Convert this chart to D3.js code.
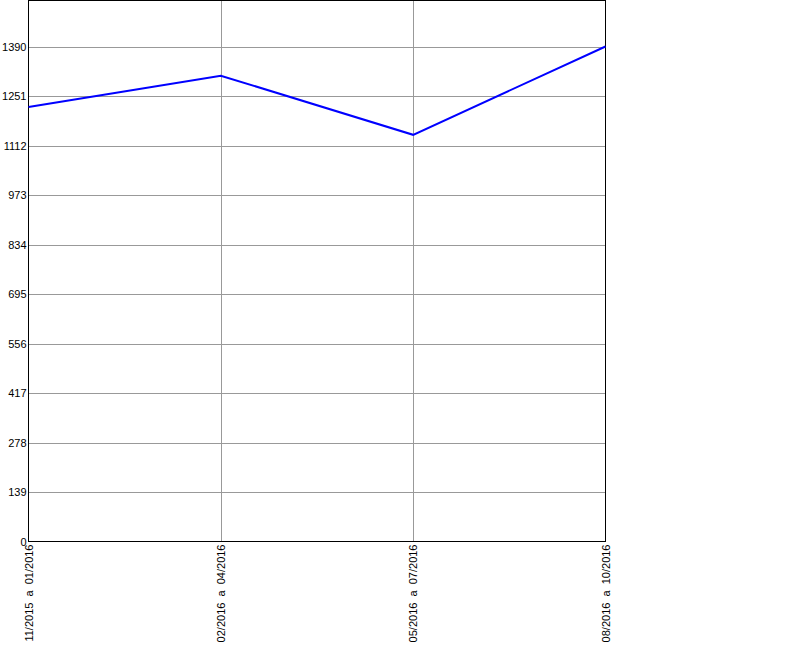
<!DOCTYPE html>
<html><head><meta charset="utf-8">
<script src="https://cdn.jsdelivr.net/npm/d3@7"></script>
<style>body{margin:0;background:#fff}svg{display:block}text{font-family:"Liberation Sans",Arial,sans-serif;font-size:11px;fill:#000}</style>
</head><body><svg id="c" width="800" height="650"></svg>
<script>
const categories = ["11/2015  a  01/2016","02/2016  a  04/2016","05/2016  a  07/2016","08/2016  a  10/2016"];
const values = [1220, 1308, 1142, 1390];
const yTicks = [0,139,278,417,556,695,834,973,1112,1251,1390];

const svg = d3.select("#c");
const L=28.5, R=605.5, T=0.5, B=541.5;
const x = d3.scalePoint().domain(categories).range([L,R]);
const y = d3.scaleLinear().domain([0,1390]).range([B, B-495]);

// horizontal grid
svg.append("g").selectAll("line").data(yTicks.filter(d=>d>0)).join("line")
  .attr("x1",L).attr("x2",R).attr("y1",d=>Math.round(y(d))+0.5).attr("y2",d=>Math.round(y(d))+0.5)
  .attr("stroke","#999").attr("stroke-width",1);
// vertical grid
svg.append("g").selectAll("line").data(categories.slice(1,-1)).join("line")
  .attr("x1",d=>Math.round(x(d))+0.5).attr("x2",d=>Math.round(x(d))+0.5).attr("y1",T).attr("y2",B)
  .attr("stroke","#999").attr("stroke-width",1);

// frame
svg.append("rect").attr("x",L).attr("y",T).attr("width",R-L).attr("height",B-T)
  .attr("fill","none").attr("stroke","#000").attr("stroke-width",1);

// y labels
svg.append("g").selectAll("text").data(yTicks).join("text")
  .attr("x",L-2).attr("y",d=>y(d)+4).attr("text-anchor","end").text(d=>d);

// x labels
svg.append("g").selectAll("text").data(categories).join("text")
  .attr("transform",d=>`translate(${x(d)+4},${B+3}) rotate(-90)`)
  .attr("text-anchor","end").style("white-space","pre").text(d=>d);

// line
const line = d3.line().x((d,i)=>x(categories[i])).y(d=>y(d));
svg.append("path").datum(values).attr("d",line).attr("fill","none")
  .attr("stroke","#0000ff").attr("stroke-width",2);
</script></body></html>
